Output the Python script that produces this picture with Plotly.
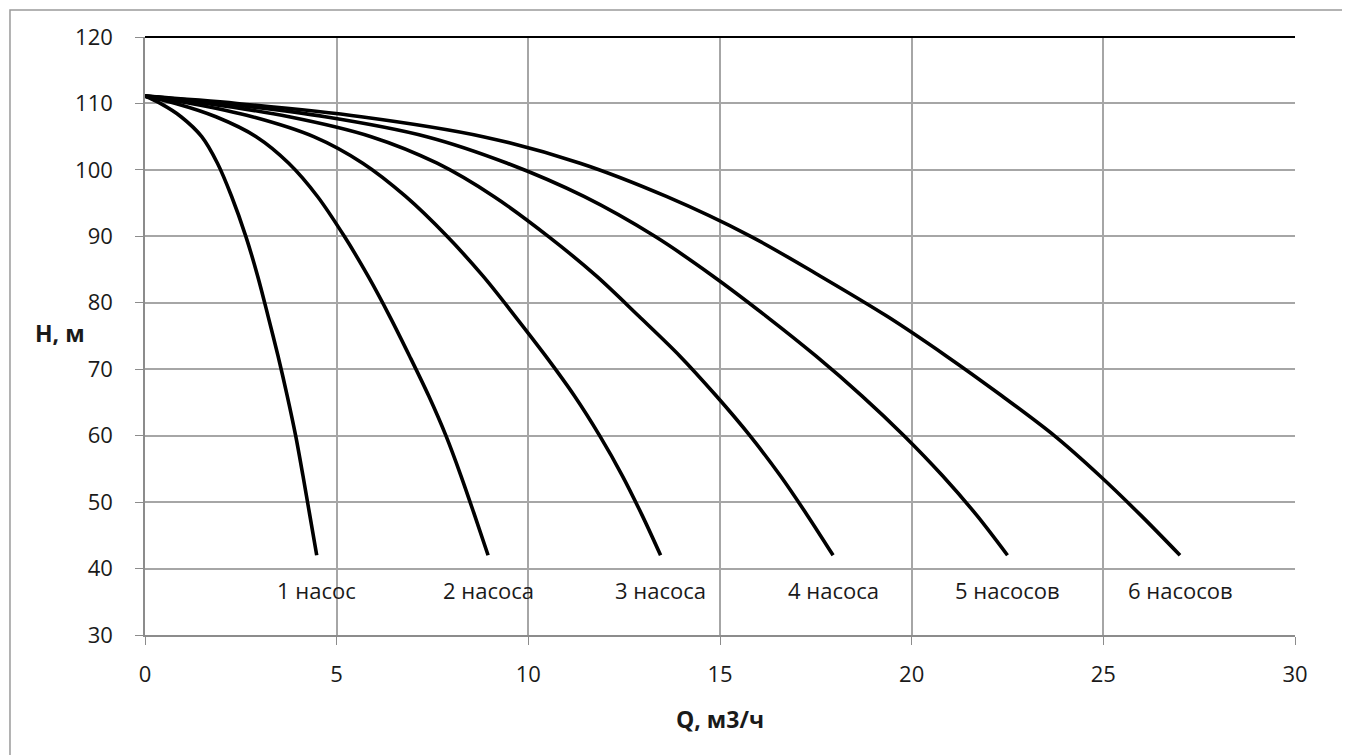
import plotly.graph_objects as go

# Pump performance curves: Q (m3/h) vs H (m), for 1..6 pumps in parallel
labels = ["1 насос", "2 насоса", "3 насоса", "4 насоса", "5 насосов", "6 насосов"]

# Head levels at which each curve was read (m)
h_levels = [111.1, 110, 108, 105, 101, 96, 90, 84, 78, 72, 66, 60, 54, 48, 42]

# Flow at those heads (m3/h)
q1 = [0, 0.4, 0.94, 1.48, 1.89, 2.26, 2.63, 2.94, 3.21, 3.47, 3.71, 3.93, 4.12, 4.30, 4.48]
q2 = [0, 0.8, 1.85, 2.9, 3.75, 4.5, 5.2, 5.82, 6.38, 6.9, 7.4, 7.85, 8.24, 8.6, 8.95]
q3 = [0, 1.2, 2.8, 4.4, 5.68, 6.8, 7.88, 8.82, 9.65, 10.45, 11.2, 11.86, 12.45, 12.97, 13.45]
q4 = [0, 1.6, 3.76, 5.9, 7.62, 9.1, 10.52, 11.78, 12.88, 13.95, 14.9, 15.78, 16.57, 17.28, 17.95]
q5 = [0, 2.0, 4.7, 7.35, 9.45, 11.45, 13.3, 14.82, 16.2, 17.5, 18.7, 19.8, 20.8, 21.7, 22.5]
q6 = [0, 2.4, 5.64, 8.82, 11.35, 13.6, 15.8, 17.62, 19.35, 20.9, 22.35, 23.72, 24.9, 25.98, 27.0]

x_ticks = [0, 5, 10, 15, 20, 25, 30]
y_ticks = [30, 40, 50, 60, 70, 80, 90, 100, 110, 120]

series = [q1, q2, q3, q4, q5, q6]

FONT = "'Open Sans', Lato, sans-serif"
TXT = "#1a1a1a"

fig = go.Figure()
for q, name in zip(series, labels):
    fig.add_trace(go.Scatter(
        x=q, y=h_levels, mode="lines", name=name,
        line=dict(color="black", width=3.6, shape="spline", smoothing=0.9),
        showlegend=False, hoverinfo="x+y"))
    fig.add_annotation(x=q[-1], y=h_levels[-1], text=name, showarrow=False,
                       yshift=-35, font=dict(family=FONT, size=22, color=TXT))

# Axis titles
fig.add_annotation(xref="paper", yref="paper", x=0.5, y=-0.14, yanchor="middle",
                   text="<b>Q, м3/ч</b>", showarrow=False,
                   font=dict(family=FONT, size=23, color=TXT))
fig.add_annotation(xref="paper", yref="paper", x=-0.074, y=0.505, xanchor="center",
                   text="<b>H, м</b>", showarrow=False,
                   font=dict(family=FONT, size=23, color=TXT))

# Top border of plot area (dark) and outer chart frame
fig.add_shape(type="line", xref="paper", yref="paper", x0=0, x1=1, y0=1, y1=1,
              line=dict(color="black", width=2))
fig.add_shape(type="rect", xref="paper", yref="paper", x0=-0.1174, x1=1.2,
              y0=-0.3, y1=1.045, line=dict(color="#9a9a9a", width=1.5),
              layer="below")

fig.update_xaxes(range=[0, 30], tickvals=x_ticks, showgrid=True,
                 gridcolor="#a6a6a6", gridwidth=1.5, zeroline=False,
                 showline=True, linecolor="#8c8c8c", linewidth=1.5,
                 ticks="outside", ticklen=8, tickcolor="#8c8c8c",
                 ticklabelstandoff=11, automargin=False,
                 tickfont=dict(family=FONT, size=22, color=TXT))
fig.update_yaxes(range=[30, 120], tickvals=y_ticks, showgrid=True,
                 gridcolor="#a6a6a6", gridwidth=1.5, zeroline=False,
                 showline=True, linecolor="#8c8c8c", linewidth=1.5,
                 ticks="outside", ticklen=8, tickcolor="#8c8c8c",
                 ticklabelstandoff=18, automargin=False,
                 tickfont=dict(family=FONT, size=22, color=TXT))

fig.update_layout(width=1342, height=747,
                  margin=dict(l=137, r=55, t=29, b=120),
                  plot_bgcolor="white", paper_bgcolor="white")

fig.write_html("out.html")
